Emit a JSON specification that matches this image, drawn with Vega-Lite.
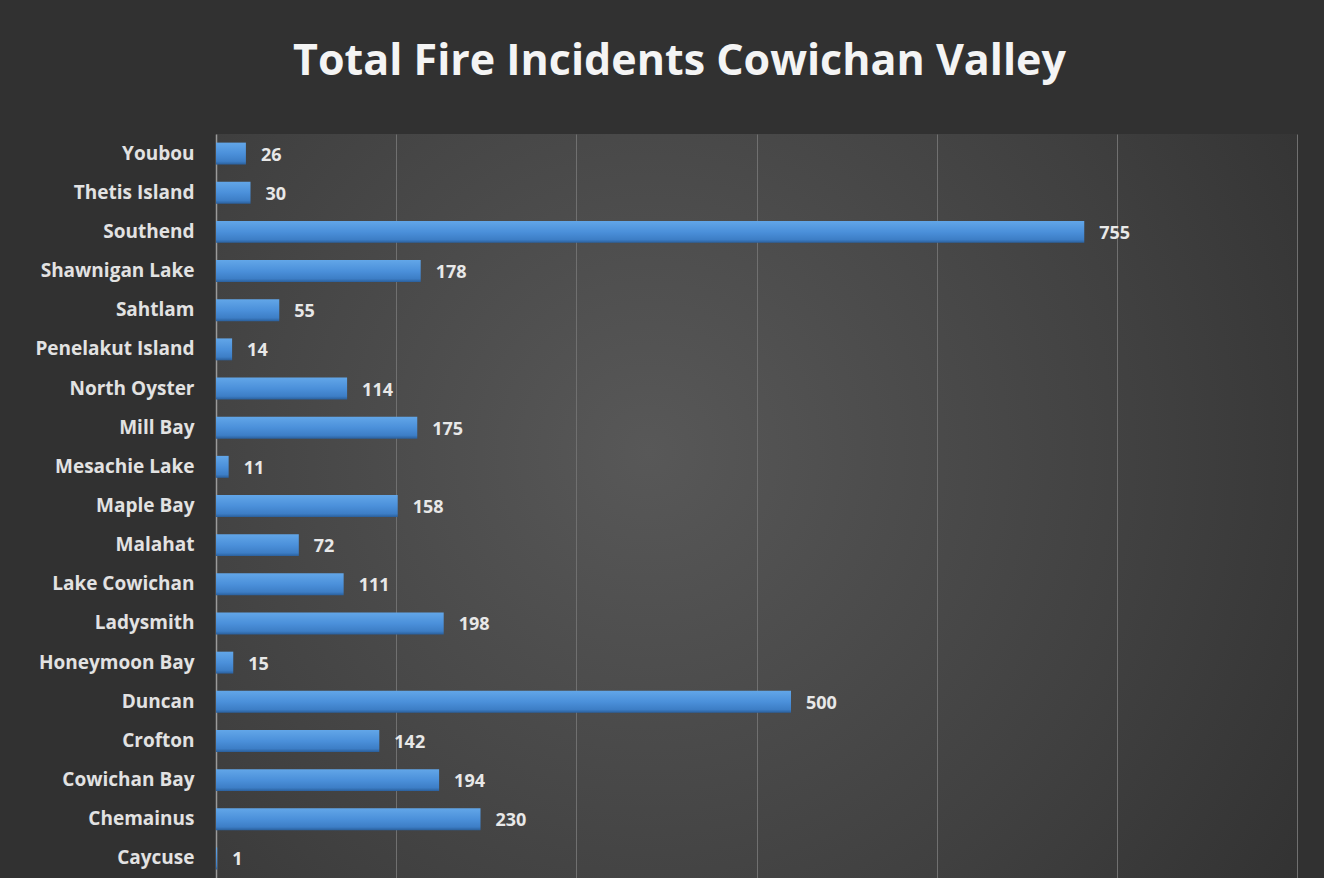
{
  "$schema": "https://vega.github.io/schema/vega-lite/v6.json",
  "autosize": {"type": "none"},
  "padding": {"left": 216, "top": 134, "right": 27, "bottom": 0},
  "width": 1081,
  "height": 744,
  "background": "#313131",
  "config": {
    "view": {
      "stroke": null,
      "fill": {
        "gradient": "radial",
        "x1": 0.4, "y1": 0.45, "r1": 0,
        "x2": 0.4, "y2": 0.45, "r2": 0.85,
        "stops": [
          {"offset": 0, "color": "#585858"},
          {"offset": 0.55, "color": "#404040"},
          {"offset": 1, "color": "#2b2b2b"}
        ]
      }
    }
  },
  "title": {
    "text": "Total Fire Incidents Cowichan Valley",
    "anchor": "middle",
    "dx": -77,
    "baseline": "alphabetic",
    "offset": 16,
    "font": "Open Sans",
    "fontSize": 43,
    "fontWeight": 700,
    "color": "#f4f4f4"
  },
  "data": {
    "values": [
      {"area": "Youbou", "incidents": 26},
      {"area": "Thetis Island", "incidents": 30},
      {"area": "Southend", "incidents": 755},
      {"area": "Shawnigan Lake", "incidents": 178},
      {"area": "Sahtlam", "incidents": 55},
      {"area": "Penelakut Island", "incidents": 14},
      {"area": "North Oyster", "incidents": 114},
      {"area": "Mill Bay", "incidents": 175},
      {"area": "Mesachie Lake", "incidents": 11},
      {"area": "Maple Bay", "incidents": 158},
      {"area": "Malahat", "incidents": 72},
      {"area": "Lake Cowichan", "incidents": 111},
      {"area": "Ladysmith", "incidents": 198},
      {"area": "Honeymoon Bay", "incidents": 15},
      {"area": "Duncan", "incidents": 500},
      {"area": "Crofton", "incidents": 142},
      {"area": "Cowichan Bay", "incidents": 194},
      {"area": "Chemainus", "incidents": 230},
      {"area": "Caycuse", "incidents": 1}
    ]
  },
  "encoding": {
    "y": {
      "field": "area",
      "type": "nominal",
      "sort": null,
      "title": null,
      "scale": {"paddingInner": 0.44, "paddingOuter": 0.22},
      "axis": {
        "domainColor": "#9a9a9a",
        "domainWidth": 1.5,
        "ticks": false,
        "labelPadding": 22,
        "labelFont": "Open Sans",
        "labelFontSize": 19,
        "labelFontWeight": 700,
        "labelColor": "#e2e2e2",
        "grid": false
      }
    },
    "x": {
      "field": "incidents",
      "type": "quantitative",
      "title": null,
      "scale": {"domain": [0, 940], "nice": false},
      "axis": {
        "values": [156.667, 313.333, 470, 626.667, 783.333, 940],
        "labels": false,
        "ticks": false,
        "domain": false,
        "grid": true,
        "gridColor": "#707070",
        "gridWidth": 1
      }
    }
  },
  "layer": [
    {
      "mark": {
        "type": "bar",
        "color": {
          "gradient": "linear",
          "x1": 0, "y1": 0, "x2": 0, "y2": 1,
          "stops": [
            {"offset": 0, "color": "#62a6e8"},
            {"offset": 0.5, "color": "#4b90da"},
            {"offset": 0.85, "color": "#3d7ec6"},
            {"offset": 1, "color": "#2a5f9c"}
          ]
        }
      }
    },
    {
      "mark": {
        "type": "text",
        "align": "left",
        "baseline": "middle",
        "dx": 15,
        "dy": 2,
        "font": "Open Sans",
        "fontSize": 18,
        "fontWeight": 700,
        "color": "#e8e8e8"
      },
      "encoding": {"text": {"field": "incidents", "type": "quantitative"}}
    }
  ]
}
